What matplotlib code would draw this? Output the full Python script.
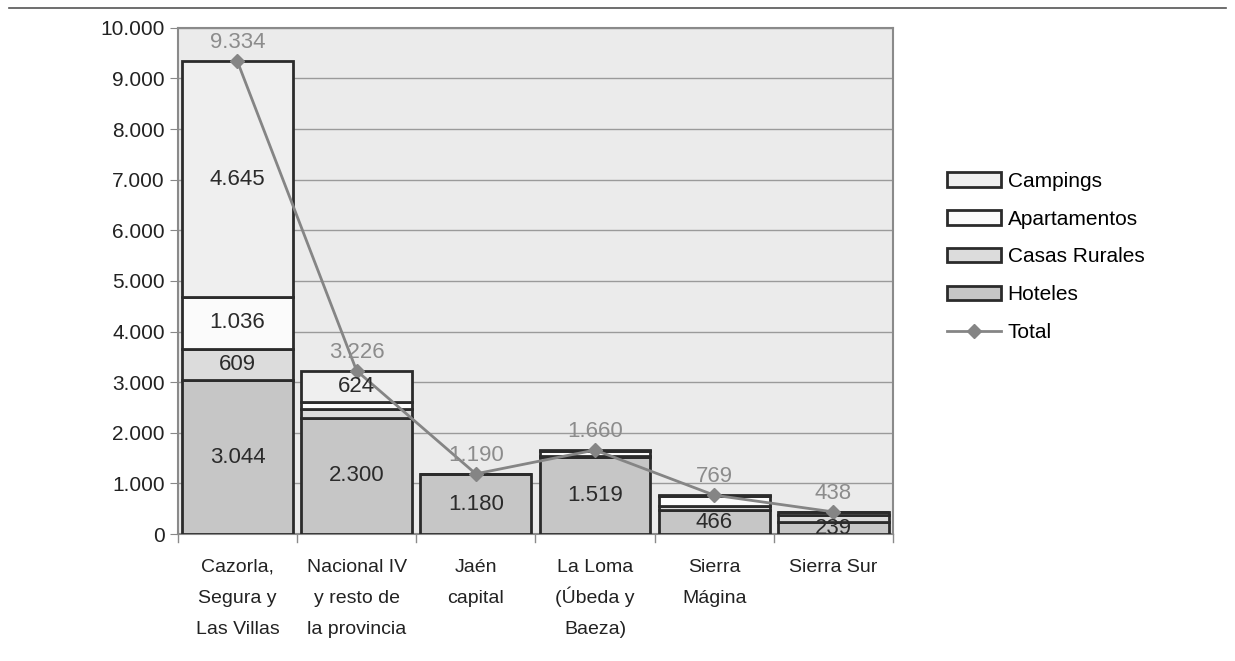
import matplotlib
matplotlib.use('Agg')
import matplotlib.pyplot as plt
from matplotlib.patches import Patch
from matplotlib.lines import Line2D
from matplotlib.ticker import FuncFormatter, MultipleLocator
from matplotlib.transforms import offset_copy

plt.rcParams['font.family'] = ['Liberation Sans', 'DejaVu Sans']

# datos (plazas por comarca)
zonas = ['Cazorla,\nSegura y\nLas Villas', 'Nacional IV\ny resto de\nla provincia',
         'Jaén\ncapital', 'La Loma\n(Úbeda y\nBaeza)', 'Sierra\nMágina', 'Sierra Sur']
hoteles = [3044, 2300, 1180, 1519, 466, 239]
casas_rurales = [609, 180, 5, 30, 85, 136]
apartamentos = [1036, 122, 5, 100, 200, 55]
campings = [4645, 624, 0, 11, 18, 8]
total = [9334, 3226, 1190, 1660, 769, 438]

# que segmentos llevan etiqueta
etiq_hoteles = [True, True, True, True, True, True]
etiq_casas = [True, False, False, False, False, False]
etiq_apart = [True, False, False, False, False, False]
etiq_camp = [True, True, False, False, False, False]

def miles(v, pos=None):
    return f'{int(v):,}'.replace(',', '.')

fig = plt.figure(figsize=(12.35, 6.61), dpi=100)
ax = fig.add_axes([0.144, 0.192, 0.579, 0.766])
ax.set_facecolor('#ebebeb')

x = range(len(zonas))
w = 0.93
edge = '#2b2b2b'
series = [
    ('Hoteles', hoteles, '#c6c6c6', etiq_hoteles),
    ('Casas Rurales', casas_rurales, '#dcdcdc', etiq_casas),
    ('Apartamentos', apartamentos, '#fbfbfb', etiq_apart),
    ('Campings', campings, '#efefef', etiq_camp),
]
base = [0] * len(zonas)
for nombre, vals, col, etiq in series:
    ax.bar(x, vals, w, bottom=base, color=col, edgecolor=edge, linewidth=2, zorder=3)
    for i, v in enumerate(vals):
        if etiq[i]:
            ax.text(i, base[i] + v / 2, miles(v), ha='center', va='center',
                    fontsize=16, color='#2b2b2b', zorder=5)
    base = [b + v for b, v in zip(base, vals)]

ax.plot(x, total, color='#858585', lw=2, marker='D', ms=7, zorder=4)
for i, t in enumerate(total):
    ax.text(i, t + 160, miles(t), ha='center', va='bottom', fontsize=16,
            color='#8c8c8c', zorder=5)

ax.set_ylim(0, 10000)
ax.set_xlim(-0.5, len(zonas) - 0.5)
ax.yaxis.set_major_locator(MultipleLocator(1000))
ax.yaxis.set_major_formatter(FuncFormatter(miles))
ax.grid(axis='y', color='#9a9a9a', lw=1, zorder=0)
ax.set_xticks(list(x))
ax.set_xticklabels([])
ax.tick_params(axis='y', labelsize=15, colors='#222222', length=6, color='#888888')
ax.tick_params(axis='x', length=0)
for s in ax.spines.values():
    s.set_color('#8a8a8a')
    s.set_linewidth(1.5)

# etiquetas del eje x, linea a linea (sobre la linea base)
trans = ax.get_xaxis_transform()
for i, z in enumerate(zonas):
    for k, linea in enumerate(z.split('\n')):
        t = offset_copy(trans, fig=fig, x=0, y=-(27 + 22.3 * k), units='points')
        ax.text(i, 0, linea, transform=t, ha='center', va='baseline',
                fontsize=14, color='#222222')

# separadores entre categorias en el eje x
for i in range(len(zonas) + 1):
    ax.plot([i - 0.5, i - 0.5], [0, -150], color='#8a8a8a', lw=1, clip_on=False)

handles = [
    Patch(facecolor='#efefef', edgecolor=edge, linewidth=2, label='Campings'),
    Patch(facecolor='#fbfbfb', edgecolor=edge, linewidth=2, label='Apartamentos'),
    Patch(facecolor='#dcdcdc', edgecolor=edge, linewidth=2, label='Casas Rurales'),
    Patch(facecolor='#c6c6c6', edgecolor=edge, linewidth=2, label='Hoteles'),
    Line2D([0], [0], color='#858585', lw=2, marker='D', ms=7, label='Total'),
]
fig.legend(handles=handles, loc='upper left', bbox_to_anchor=(0.767, 0.74),
           frameon=False, fontsize=15, handlelength=2.6, handleheight=0.7,
           labelspacing=0.9, handletextpad=0.3, borderpad=0, borderaxespad=0)

# linea superior
fig.add_artist(Line2D([0.007, 0.993], [0.988, 0.988], color='#555555', lw=1.2,
                      transform=fig.transFigure))

fig.savefig('out.png', dpi=100)
